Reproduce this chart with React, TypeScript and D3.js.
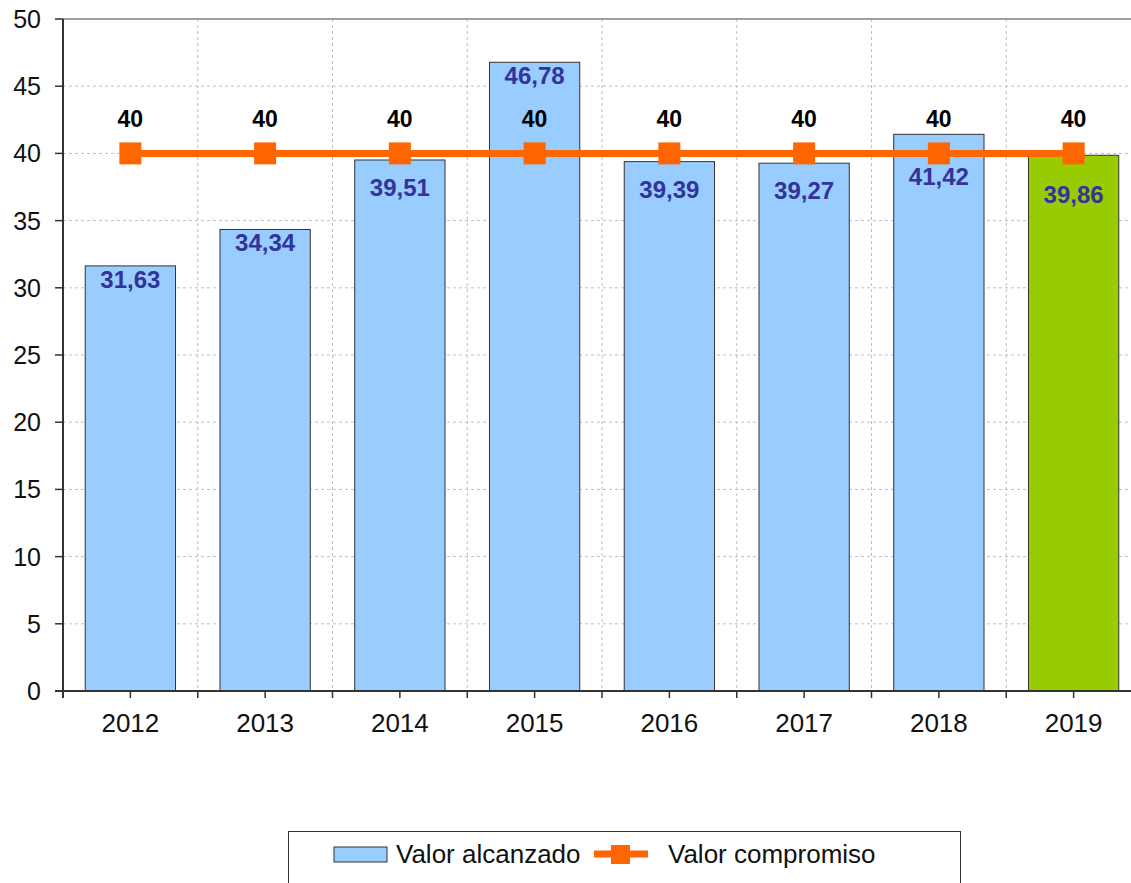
import React from "react";
import * as d3 from "d3";

const years = ["2012", "2013", "2014", "2015", "2016", "2017", "2018", "2019"];
const achieved = [31.63, 34.34, 39.51, 46.78, 39.39, 39.27, 41.42, 39.86];
const commitment = [40, 40, 40, 40, 40, 40, 40, 40];
const yTicks = [0, 5, 10, 15, 20, 25, 30, 35, 40, 45, 50];
const legendLabels = ["Valor alcanzado", "Valor compromiso"];

const W = 1131, H = 883;
const left = 63, right = 1141, top = 19, bottom = 691;
const font = "Liberation Sans, Arial, sans-serif";

export default function App() {
  const x = d3.scaleBand<string>().domain(years).range([left, right]).paddingInner(0).paddingOuter(0);
  const y = d3.scaleLinear().domain([0, 50]).range([bottom, top]);
  const bw = x.bandwidth() * 0.67;
  const fmt = (v: number) => v.toFixed(2).replace(".", ",");
  const line = d3.line<number>().x((_, i) => x(years[i])! + x.bandwidth() / 2).y((d) => y(d));
  const boundaries = years.map((yr) => x(yr)!).slice(1);
  const labelY = (v: number, c: number) => {
    const base = y(v) + 22;
    if (Math.abs(base - 8 - y(c)) >= 24) return base;
    const d = y(v) - y(c);
    if (Math.abs(d) < 5) return y(v) + 48;
    if (d < 0) return y(v) + 51;
    return y(v) + 36;
  };

  return (
    <svg width={W} height={H} style={{ position: "absolute", left: 0, top: 0, background: "#fff" }} fontFamily={font}>
      {yTicks.filter((t) => t > 0 && t < 50).map((t) => (
        <line key={"gy" + t} x1={left} x2={W} y1={y(t)} y2={y(t)} stroke="#c0c0c0" strokeDasharray="3,3" />
      ))}
      {boundaries.map((bx, i) => (
        <line key={"gx" + i} x1={bx} x2={bx} y1={top} y2={bottom} stroke="#c0c0c0" strokeDasharray="3,3" />
      ))}
      <line x1={left} x2={W} y1={top} y2={top} stroke="#808080" strokeWidth={1.5} />
      {achieved.map((v, i) => (
        <rect key={"b" + i} x={x(years[i])! + (x.bandwidth() - bw) / 2} y={y(v)} width={bw} height={bottom - y(v)}
          fill={i === years.length - 1 ? "#99CC00" : "#99CCFF"} stroke="#333" strokeWidth={1} />
      ))}
      <line x1={left} x2={left} y1={top} y2={bottom + 7} stroke="#333" strokeWidth={2} />
      <line x1={left - 8} x2={W} y1={bottom} y2={bottom} stroke="#333" strokeWidth={2} />
      {yTicks.map((t) => (
        <g key={"yt" + t}>
          <line x1={left - 8} x2={left} y1={y(t)} y2={y(t)} stroke="#333" strokeWidth={1.5} />
          <text x={41} y={y(t) + 9} textAnchor="end" fontSize={25} fill="#111">{t}</text>
        </g>
      ))}
      {years.map((yr) => (
        <g key={"xt" + yr}>
          <line x1={x(yr)! + x.bandwidth() / 2} x2={x(yr)! + x.bandwidth() / 2} y1={bottom} y2={bottom + 7} stroke="#333" strokeWidth={1.5} />
          <line x1={x(yr)! + x.bandwidth()} x2={x(yr)! + x.bandwidth()} y1={bottom} y2={bottom + 7} stroke="#333" strokeWidth={1.5} />
          <text x={x(yr)! + x.bandwidth() / 2} y={732} textAnchor="middle" fontSize={26} fill="#111">{yr}</text>
        </g>
      ))}
      <path d={line(commitment)!} fill="none" stroke="#FF6600" strokeWidth={7} />
      {commitment.map((v, i) => (
        <g key={"m" + i}>
          <rect x={x(years[i])! + x.bandwidth() / 2 - 11} y={y(v) - 11} width={22} height={22} fill="#FF6600" />
          <text x={x(years[i])! + x.bandwidth() / 2} y={y(v) - 26} textAnchor="middle" fontSize={23} fontWeight="bold" fill="#000">{v}</text>
        </g>
      ))}
      {achieved.map((v, i) => (
        <text key={"bl" + i} x={x(years[i])! + x.bandwidth() / 2} y={labelY(v, commitment[i])} textAnchor="middle"
          fontSize={24} fontWeight="bold" fill="#333399">{fmt(v)}</text>
      ))}
      <rect x={288.5} y={831.5} width={672} height={70} fill="#fff" stroke="#333" strokeWidth={1} />
      <rect x={334} y={847} width={53} height={15} fill="#99CCFF" stroke="#333" />
      <text x={396} y={863} fontSize={26} fill="#111">{legendLabels[0]}</text>
      <line x1={594} x2={648} y1={854} y2={854} stroke="#FF6600" strokeWidth={7} />
      <rect x={611} y={845} width={19} height={19} fill="#FF6600" />
      <text x={668} y={863} fontSize={26} fill="#111">{legendLabels[1]}</text>
    </svg>
  );
}
